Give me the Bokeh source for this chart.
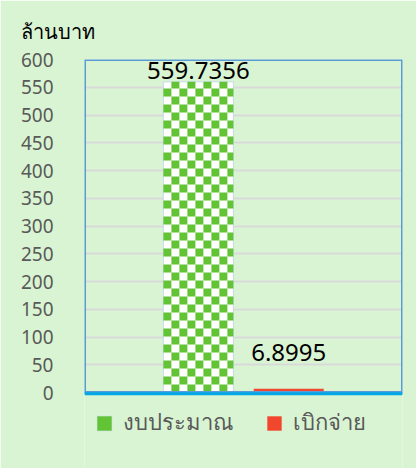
import numpy as np
from bokeh.plotting import figure
from bokeh.models import (Range1d, Legend, LegendItem, Title, Span,
                          BoxAnnotation, FixedTicker)
from bokeh.core.properties import value
from bokeh.embed import file_html
from bokeh.resources import INLINE

# ---- data ----
series = ["งบประมาณ", "เบิกจ่าย"]
values = [559.7356, 6.8995]
value_labels = ["559.7356", "6.8995"]
y_title = "ล้านบาท"
y_max = 600
y_step = 50
y_ticks = list(range(0, y_max + 1, y_step))

# ---- styles / layout ----
GREEN = "#62C435"
RED = "#F2472F"
BG = "#D9F4D2"
GREY = "#595959"
FONT = "Noto Sans"
BAR_W = 0.775
FRAME_W = 318
PLOT_H = 333          # pixel height of the 0..600 area
LEGEND_H = 76         # pixel room under the plot area for the legend
X_START, X_END = -1.261, 2.26
CELL_PX = 8
px_y = y_max / PLOT_H  # data units per pixel (y)

idx = list(range(len(series)))

p = figure(output_backend="svg", toolbar_location=None,
           frame_width=FRAME_W, frame_height=PLOT_H + LEGEND_H,
           x_range=Range1d(X_START, X_END),
           y_range=Range1d(-LEGEND_H * px_y, y_max),
           min_border_left=84, min_border_right=14,
           min_border_top=59, min_border_bottom=0)
p.background_fill_color = BG
p.border_fill_color = BG
p.outline_line_color = None

# bars
r1 = p.vbar(x=[idx[0]], top=[values[0]], width=BAR_W,
            fill_color="white", line_color="#C5DAEA", line_width=1)
r2 = p.vbar(x=[idx[1]], top=[values[1]], width=BAR_W,
            fill_color=RED, line_color=None)

# checker pattern of the first bar (cells derived from its value)
cw = (X_END - X_START) / FRAME_W * CELL_PX
ch = px_y * CELL_PX
x0 = idx[0] - BAR_W / 2
x1 = idx[0] + BAR_W / 2
L, R, B, T = [], [], [], []
n_rows = int(np.ceil(values[0] / ch))
n_cols = int(np.ceil(BAR_W / cw))
for i in range(n_rows):
    for j in range(n_cols):
        if (i + j) % 2 == 0:
            continue
        left = x0 + j * cw
        bottom = i * ch
        L.append(left)
        R.append(min(left + cw, x1))
        B.append(bottom)
        T.append(min(bottom + ch, values[0]))
cells = p.quad(left=L, right=R, bottom=B, top=T,
               fill_color=GREEN, line_color=None)

label_offsets = [-11, -36]
p.text(x=idx, y=values, text=value_labels, y_offset=label_offsets,
       text_align="center", text_baseline="middle",
       text_font=value(FONT), text_font_size="24px", text_color="black")

# plot-area box and base line
p.add_layout(BoxAnnotation(left=X_START, right=X_END, bottom=0, top=y_max,
                           fill_alpha=0, line_color="#5B9BD5", line_alpha=1.0,
                           line_width=3))
p.add_layout(Span(location=-1.2 * px_y, dimension="width",
                  line_color="#00A8E8", line_width=3))

# axes
p.xaxis.visible = False
p.yaxis.ticker = FixedTicker(ticks=y_ticks)
p.yaxis.axis_line_color = None
p.yaxis.major_tick_line_color = None
p.yaxis.minor_tick_line_color = None
p.yaxis.major_label_text_font = FONT
p.yaxis.major_label_text_font_size = "19px"
p.yaxis.major_label_text_color = GREY
p.yaxis.major_label_standoff = 25

p.xgrid.grid_line_color = None
p.ygrid.grid_line_color = "#D9D9D9"
p.ygrid.grid_line_width = 2
p.ygrid.ticker = FixedTicker(ticks=y_ticks)

title = Title(text=y_title, align="left", offset=-64, standoff=26,
              vertical_align="top", text_baseline="top",
              text_font=FONT, text_font_size="20px", text_font_style="normal",
              text_color="black")
p.add_layout(title, "above")

legend = Legend(items=[LegendItem(label=series[0], renderers=[r1, cells]),
                       LegendItem(label=series[1], renderers=[r2])],
                orientation="horizontal", location=(11, 28),
                glyph_width=18, glyph_height=18, spacing=32, label_standoff=10,
                label_text_font=FONT, label_text_font_size="22px",
                label_text_color=GREY, border_line_color=None,
                background_fill_alpha=0, margin=0, padding=0)
p.add_layout(legend, "center")

html = file_html(p, INLINE)
html = html.replace("<body>", '<body style="background:%s">' % BG, 1)
open("out.html", "w").write(html)
